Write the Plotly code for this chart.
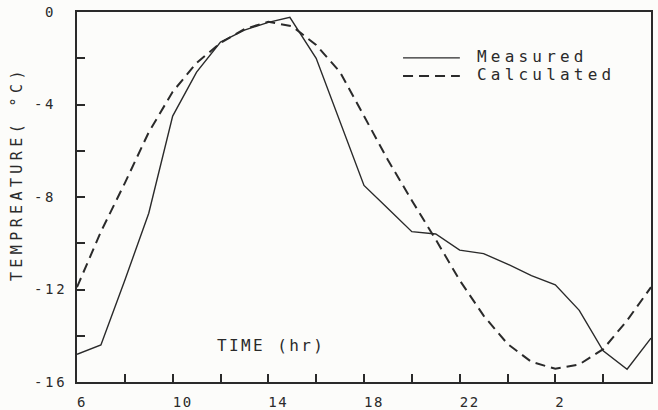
import plotly.graph_objects as go

# ---- data ----
hours_measured = [6, 7, 8, 9, 10, 11, 12, 13, 14, 14.9, 16, 17, 18, 19, 20, 21, 22, 23, 24, 25, 26, 27, 28, 29, 30]
temp_measured = [-14.8, -14.4, -11.6, -8.7, -4.5, -2.6, -1.3, -0.78, -0.45, -0.23, -2.0, -4.75, -7.5, -8.5, -9.5,
                 -9.6, -10.3, -10.45, -10.9, -11.4, -11.8, -12.9, -14.65, -15.45, -14.1]

hours_calc = [6, 7, 8, 9, 10, 11, 12, 13, 14, 15, 16, 17, 18, 19, 20, 21, 22, 23, 24, 25, 26, 27, 28, 29, 30]
temp_calc = [-11.9, -9.5, -7.4, -5.2, -3.45, -2.2, -1.34, -0.74, -0.42, -0.62, -1.43, -2.6, -4.5, -6.4, -8.15,
             -9.84, -11.6, -13.13, -14.35, -15.13, -15.43, -15.24, -14.58, -13.34, -11.9]

x_tickvals = [6, 10, 14, 18, 22, 26, 30]
x_ticklabels = ["6", "10", "14", "18", "22", "2", "6"]
y_tickvals = [0, -4, -8, -12, -16]
y_ticklabels = ["0", "-4", "-8", "-12", "-16"]

FONT = "DejaVu Sans Mono"
INK = "#2a2a2a"
NB = "\u00a0"


def spaced(s, px):
    return '<span style="letter-spacing:%spx">%s</span>' % (px, s)


def pad_x(t):
    # centred label with leading blanks -> digits start at the tick (plotter style)
    return NB * len(t) + t


def pad_y(t):
    if not t.startswith("-"):
        t = NB + t
    return t + NB * (3 - len(t))


solid_line = dict(color=INK, width=1.4)
dash_line = dict(color=INK, width=2, dash="10px,6px")

fig = go.Figure()
fig.add_trace(go.Scatter(x=hours_measured, y=temp_measured, mode="lines", line=solid_line,
                         name="Measured", showlegend=False))
fig.add_trace(go.Scatter(x=hours_calc, y=temp_calc, mode="lines", line=dash_line,
                         name="Calculated", showlegend=False))

xt = [spaced(pad_x(t), 1.6) for t in x_ticklabels]
yt = [spaced(pad_y(t), 2.6) for t in y_ticklabels]

fig.update_layout(
    width=658, height=410,
    margin=dict(l=77, r=7, t=12, b=28),
    paper_bgcolor="#fcfcfa", plot_bgcolor="#fcfcfa",
    font=dict(family=FONT, color=INK, size=14),
    xaxis=dict(range=[6, 30], tickvals=x_tickvals, ticktext=xt, ticks="", automargin=False,
               showgrid=False, zeroline=False, showline=True, linecolor=INK, linewidth=2,
               mirror=True, ticklabelstandoff=6,
               tickfont=dict(family=FONT, size=14, color=INK)),
    yaxis=dict(range=[-16, 0], tickvals=y_tickvals, ticktext=yt, ticks="", automargin=False,
               showgrid=False, zeroline=False, showline=True, linecolor=INK, linewidth=2,
               mirror=True, ticklabelstandoff=5,
               tickfont=dict(family=FONT, size=14, color=INK)),
    xaxis2=dict(overlaying="x", range=[6, 30], dtick=2, tick0=6, ticks="inside", ticklen=8,
                tickcolor=INK, tickwidth=1.5, showticklabels=False, showgrid=False, zeroline=False,
                anchor="y", automargin=False),
    yaxis2=dict(overlaying="y", range=[-16, 0], dtick=2, tick0=0, ticks="inside", ticklen=8,
                tickcolor=INK, tickwidth=1.5, showticklabels=False, showgrid=False, zeroline=False,
                anchor="x", automargin=False),
)
fig.add_trace(go.Scatter(x=[6], y=[-16], xaxis="x2", yaxis="y2", mode="markers",
                         marker=dict(opacity=0), showlegend=False, hoverinfo="skip"))

# legend drawn by hand
fig.add_shape(type="line", xref="paper", yref="paper", x0=0.568, x1=0.667, y0=0.876, y1=0.876, line=solid_line)
fig.add_shape(type="line", xref="paper", yref="paper", x0=0.568, x1=0.667, y0=0.827, y1=0.827, line=dash_line)
fig.add_annotation(xref="paper", yref="paper", x=0.693, y=0.881, xanchor="left", yanchor="middle",
                   text=spaced("Measured", 4.2), showarrow=False, font=dict(family=FONT, size=16, color=INK))
fig.add_annotation(xref="paper", yref="paper", x=0.693, y=0.830, xanchor="left", yanchor="middle",
                   text=spaced("Calculated", 4.2), showarrow=False, font=dict(family=FONT, size=16, color=INK))

fig.add_annotation(xref="paper", yref="paper", x=0.241, y=0.099, xanchor="left", yanchor="middle",
                   text=spaced("TIME (hr)", 2.4), showarrow=False, font=dict(family=FONT, size=16, color=INK))
fig.add_annotation(xref="paper", yref="paper", x=-0.1045, y=0.562, xanchor="center", yanchor="middle",
                   textangle=-90, text=spaced("TEMPREATURE( °C)", 4.4), showarrow=False,
                   font=dict(family=FONT, size=15, color=INK))

fig.write_html("out.html", config={"displayModeBar": False},
               post_script="document.body.style.margin='0';document.body.style.overflow='hidden';")
